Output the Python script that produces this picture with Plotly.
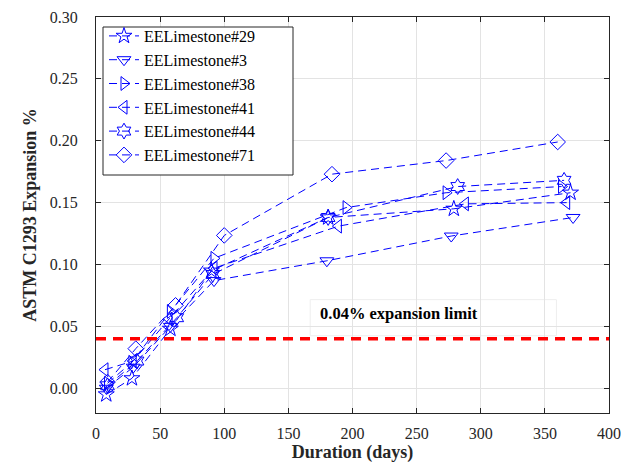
import plotly.graph_objects as go

names = ["EELimestone#29", "EELimestone#3", "EELimestone#38",
         "EELimestone#41", "EELimestone#44", "EELimestone#71"]
symbols = ["star-open", "triangle-down-open", "triangle-right-open",
           "triangle-left-open", "hexagram-open", "diamond-open"]

x29 = [8, 28, 58, 90, 181, 279, 370]
y29 = [-0.005, 0.008, 0.048, 0.095, 0.138, 0.145, 0.158]
x3 = [8, 29, 58, 92, 180, 277, 372]
y3 = [0.000, 0.017, 0.050, 0.087, 0.103, 0.123, 0.138]
x38 = [9, 28, 58, 92, 195, 273, 363]
y38 = [0.004, 0.021, 0.062, 0.105, 0.146, 0.158, 0.163]
x41 = [7, 29, 57, 92, 189, 288, 367]
y41 = [0.015, 0.022, 0.056, 0.097, 0.131, 0.149, 0.150]
x44 = [9, 32, 63, 91, 181, 282, 365]
y44 = [0.002, 0.022, 0.057, 0.092, 0.138, 0.163, 0.168]
x71 = [9, 31, 62, 100, 184, 273, 360]
y71 = [0.005, 0.032, 0.067, 0.1235, 0.173, 0.184, 0.199]

xs = [x29, x3, x38, x41, x44, x71]
ys = [y29, y3, y38, y41, y44, y71]

limit_x = [0, 400]
limit_y = [0.04, 0.04]
limit_label = "0.04% expansion limit"

FONT = "Times New Roman, Liberation Serif, serif"
BLUE = "#0000FF"

fig = go.Figure()
for i, (n, s, xv, yv) in enumerate(zip(names, symbols, xs, ys)):
    fig.add_trace(go.Scatter(
        x=xv, y=yv, name=n, mode="lines+markers",
        legendgroup=f"g{i}",
        line=dict(color=BLUE, width=1, dash="8px,5px"),
        marker=dict(symbol=s, size=12, color=BLUE, line=dict(color=BLUE, width=1)),
    ))

fig.add_trace(go.Scatter(
    x=limit_x, y=limit_y, mode="lines", showlegend=False,
    line=dict(color="#FF0000", width=3.5, dash="10px,7px"),
))

# annotation frame (faint)
fig.add_shape(type="rect", x0=167, x1=359, y0=0.0424, y1=0.0716,
              line=dict(color="#eeeeee", width=1), fillcolor="rgba(255,255,255,0)",
              layer="below")
fig.add_annotation(x=173, y=0.0603, text="<b>" + limit_label + "</b>",
                   showarrow=False, xanchor="left", yanchor="middle",
                   font=dict(family=FONT, size=16.5, color="black"))

# legend frame (opaque white box, drawn in paper coords)
fig.add_shape(type="rect", xref="paper", yref="paper",
              x0=(103 - 96) / 513, x1=(293 - 96) / 513,
              y0=(413 - 175) / 396, y1=(413 - 27) / 396,
              line=dict(color="#262626", width=1), fillcolor="white", layer="above")

axis_common = dict(
    showgrid=True, gridcolor="#e3e3e3", gridwidth=1,
    showline=True, linecolor="#262626", linewidth=1, mirror="ticks",
    ticks="inside", ticklen=5, tickcolor="#262626",
    tickfont=dict(family=FONT, size=16, color="#262626"),
    zeroline=False, automargin=False,
)

fig.update_layout(
    width=621, height=467,
    margin=dict(l=96, r=12, t=17, b=54),
    plot_bgcolor="white", paper_bgcolor="white",
    font=dict(family=FONT, color="#262626"),
    xaxis=dict(range=[0, 400], dtick=50, tick0=0,
               title=dict(text="<b>Duration (days)</b>", font=dict(family=FONT, size=18, color="#262626"), standoff=4),
               ticklabelstandoff=6, **axis_common),
    yaxis=dict(range=[-0.02, 0.30], dtick=0.05, tick0=0, tickformat=".2f",
               title=dict(text="<b>ASTM C1293 Expansion %</b>", font=dict(family=FONT, size=18, color="#262626"), standoff=8),
               ticklabelstandoff=14, **axis_common),
    legend=dict(x=(104 - 96) / 513, y=(413 - 19) / 396, xanchor="left", yanchor="top",
                bgcolor="rgba(0,0,0,0)", borderwidth=0,
                font=dict(family=FONT, size=16, color="black"),
                tracegroupgap=0, itemwidth=30),
    showlegend=True,
)

fig.write_html("out.html", config={"displayModeBar": False},
               post_script="document.body.style.margin='0';document.body.style.overflow='hidden';")
